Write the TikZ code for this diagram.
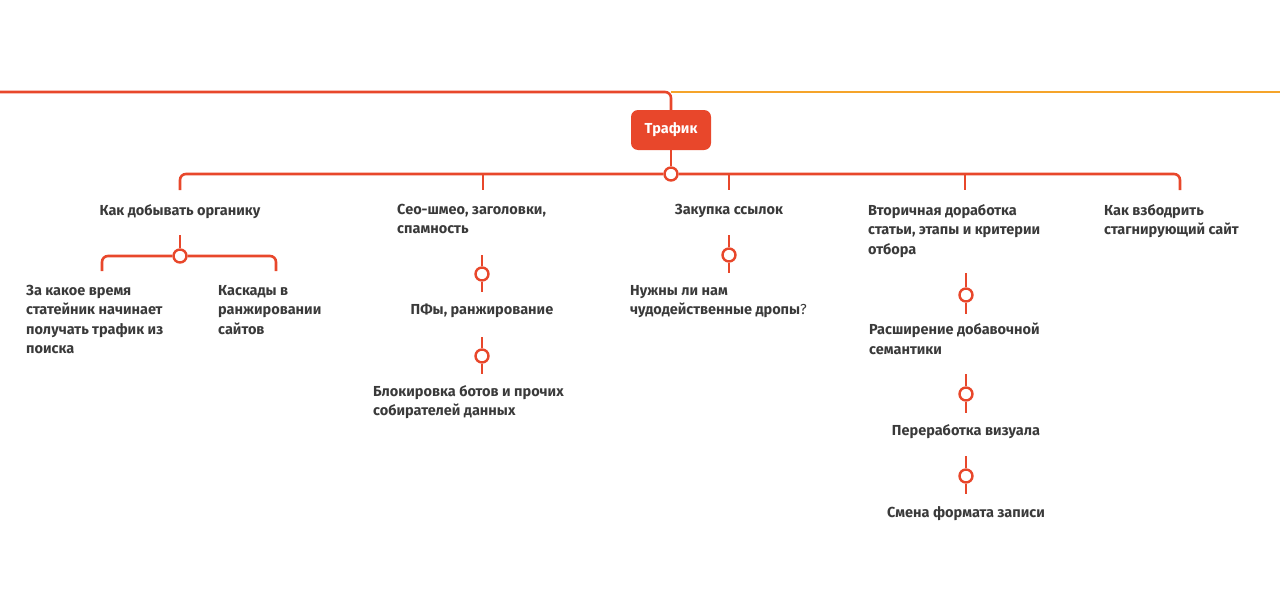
\documentclass[tikz,border=0pt]{standalone}
\usepackage{fontspec}
\setmainfont{Fira Sans}
\begin{document}
\begin{tikzpicture}[x=1pt,y=-1pt,
  every node/.style={font=\fontsize{14.5}{19.5}\selectfont\bfseries, text=txt, inner sep=0pt},
  ln/.style={draw=ored, line width=2.6pt, rounded corners=6pt},
  dot/.style={circle, draw=ored, line width=2.4pt, fill=white, minimum size=13pt},
  lbl/.style={align=left, anchor=north west},
  clbl/.style={align=center, anchor=north}]
\definecolor{ored}{HTML}{E8472B}
\definecolor{yor}{HTML}{F5A42A}
\definecolor{txt}{HTML}{3A3A3A}
\useasboundingbox (0,0) rectangle (1280,613);
% top lines
\draw[draw=yor, line width=2.6pt] (671,92) -- (1280,92);
\node[fill=ored, rounded corners=7pt, minimum width=80pt, minimum height=40pt, text=white] (root) at (671,130) {Трафик};
\draw[ln] (0,92) -- (671,92) -- (root.north);
% main bar
\node[dot] (c0) at (671,174) {};
\draw[ln] (root.south) -- (c0.north);
\coordinate (b1) at (180,190); \coordinate (b2) at (483,190); \coordinate (b3) at (729,190);
\coordinate (b4) at (965,190); \coordinate (b5) at (1180,190);
\draw[ln] (b1) -- (180,174) -- (c0.west);
\draw[ln] (c0.east) -- (1180,174) -- (b5);
\draw[ln] (483,174) -- (b2);
\draw[ln] (729,174) -- (b3);
\draw[ln] (965,174) -- (b4);
% level 1 texts
\node[clbl] (t1) at (180,204) {Как добывать органику};
\node[lbl] (t2) at (397,204) {Сео-шмео, заголовки,\\спамность};
\node[clbl] (t3) at (729,204) {Закупка ссылок};
\node[lbl] (t4) at (868,204) {Вторичная доработка\\статьи, этапы и критерии\\отбора};
\node[lbl] (t5) at (1104,204) {Как взбодрить\\стагнирующий сайт};
% organic
\node[dot] (c1) at (180,256) {};
\coordinate (s1) at (180,235);
\draw[ln] (s1) -- (c1.north);
\coordinate (l1) at (102,271); \coordinate (r1) at (276,271);
\draw[ln] (l1) -- (102,256) -- (c1.west);
\draw[ln] (c1.east) -- (276,256) -- (r1);
\node[lbl] (t11) at (26,285) {За какое время\\статейник начинает\\получать трафик из\\поиска};
\node[lbl] (t12) at (218,285) {Каскады в\\ранжировании\\сайтов};
% seo
\node[dot] (c2) at (482,274) {};
\coordinate (s2a) at (482,255); \coordinate (s2b) at (482,292);
\draw[ln] (s2a) -- (c2.north); \draw[ln] (c2.south) -- (s2b);
\node[clbl] (t21) at (482,304) {ПФы, ранжирование};
\node[dot] (c3) at (482,356) {};
\coordinate (s3a) at (482,337); \coordinate (s3b) at (482,374);
\draw[ln] (s3a) -- (c3.north); \draw[ln] (c3.south) -- (s3b);
\node[lbl] (t22) at (373,385) {Блокировка ботов и прочих\\собирателей данных};
% links
\node[dot] (c4) at (729,255) {};
\coordinate (s4a) at (729,235); \coordinate (s4b) at (729,273);
\draw[ln] (s4a) -- (c4.north); \draw[ln] (c4.south) -- (s4b);
\node[lbl] (t31) at (630,285) {Нужны ли нам\\чудодейственные дропы{\mdseries ?}};
% secondary
\node[dot] (c5) at (966,295) {};
\coordinate (s5a) at (966,273); \coordinate (s5b) at (966,314);
\draw[ln] (s5a) -- (c5.north); \draw[ln] (c5.south) -- (s5b);
\node[lbl] (t41) at (869,323) {Расширение добавочной\\семантики};
\node[dot] (c6) at (966,394) {};
\coordinate (s6a) at (966,374); \coordinate (s6b) at (966,413);
\draw[ln] (s6a) -- (c6.north); \draw[ln] (c6.south) -- (s6b);
\node[clbl] (t42) at (966,424) {Переработка визуала};
\node[dot] (c7) at (966,476) {};
\coordinate (s7a) at (966,456); \coordinate (s7b) at (966,494);
\draw[ln] (s7a) -- (c7.north); \draw[ln] (c7.south) -- (s7b);
\node[clbl] (t43) at (966,506) {Смена формата записи};
\end{tikzpicture}
\end{document}
